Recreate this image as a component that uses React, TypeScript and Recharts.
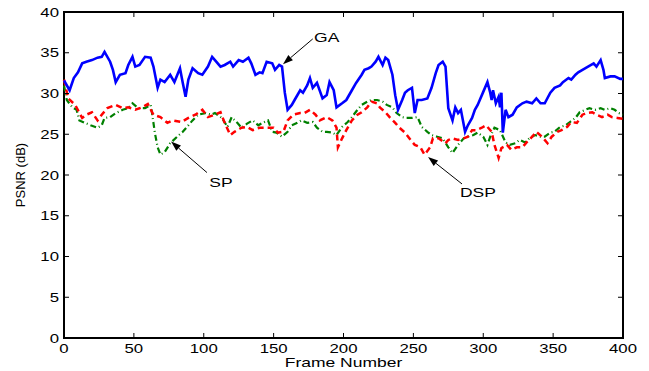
import React from 'react';
import { LineChart, Line, XAxis, YAxis, ReferenceArea, ReferenceLine, ReferenceDot } from 'recharts';

// frame axis / psnr axis ticks
const xTicks = [0, 50, 100, 150, 200, 250, 300, 350, 400];
const yTicks = [0, 5, 10, 15, 20, 25, 30, 35, 40];

// GA (solid blue)
const gaFrames = [0, 4, 7, 10, 13, 16, 20, 24, 27, 29, 33, 35, 37, 40, 44, 46, 49, 51, 54, 58, 62, 64, 67, 69, 72, 76, 79, 83, 85, 87, 89, 92, 96, 99, 103, 106, 108, 112, 115, 119, 121, 125, 128, 132, 134, 137, 140, 142, 145, 149, 151, 154, 156, 158, 160, 163, 165, 169, 171, 174, 176, 178, 181, 185, 188, 190, 193, 195, 199, 202, 206, 209, 213, 215, 218, 220, 223, 225, 228, 230, 232, 235, 237, 239, 242, 244, 246, 249, 251, 253, 256, 260, 263, 266, 268, 271, 273, 275, 278, 280, 282, 284, 287, 289, 292, 294, 296, 300, 303, 305, 306, 307, 309, 311, 312, 313, 314, 316, 318, 321, 324, 328, 331, 335, 338, 341, 344, 348, 351, 355, 357, 361, 363, 366, 368, 371, 375, 379, 381, 384, 386, 387, 391, 394, 398, 400];
const gaPsnr = [31.6, 30.4, 31.9, 32.6, 33.7, 33.9, 34.1, 34.4, 34.5, 35.1, 33.9, 32.9, 31.4, 32.3, 32.5, 33.5, 34.5, 33.3, 33.5, 34.5, 34.4, 33.3, 30.7, 31.7, 31.4, 32.3, 31.4, 33.1, 31.3, 29.6, 31.7, 33.1, 32.5, 32.3, 33.3, 34.5, 34.1, 33.3, 33.5, 33.9, 33.3, 34.1, 33.9, 34.4, 33.7, 32.3, 32.6, 32.5, 33.9, 33.7, 32.9, 33.5, 33.3, 30.1, 28.0, 28.6, 29.2, 30.4, 30.1, 31.0, 31.9, 30.7, 31.3, 29.4, 29.8, 31.4, 30.4, 28.3, 28.8, 29.2, 30.4, 31.3, 32.3, 32.9, 33.1, 33.3, 33.9, 34.5, 33.5, 34.4, 34.1, 32.3, 29.8, 28.0, 29.2, 30.1, 30.4, 30.7, 27.6, 29.2, 29.2, 29.4, 30.7, 32.5, 33.5, 33.9, 33.3, 28.2, 26.7, 28.3, 27.6, 28.0, 25.3, 26.1, 27.0, 28.0, 28.6, 30.2, 31.4, 30.1, 29.2, 30.4, 28.8, 29.6, 28.3, 30.1, 25.2, 28.0, 27.1, 27.4, 28.3, 28.8, 29.0, 28.8, 29.4, 28.8, 28.8, 30.1, 30.7, 31.0, 31.4, 31.9, 31.7, 32.3, 32.6, 32.9, 33.3, 33.7, 33.3, 34.1, 32.9, 31.9, 32.1, 32.1, 31.8, 31.8];

// SP (green dash-dot)
const spFrames = [0, 2, 6, 9, 11, 15, 19, 24, 27, 29, 33, 37, 42, 46, 49, 53, 58, 62, 63, 65, 67, 69, 72, 76, 81, 85, 89, 92, 96, 101, 105, 108, 113, 117, 120, 124, 127, 131, 135, 139, 142, 146, 149, 152, 156, 160, 163, 167, 170, 174, 178, 181, 185, 188, 192, 195, 199, 203, 206, 210, 213, 217, 220, 224, 228, 231, 235, 238, 242, 245, 249, 253, 256, 260, 263, 267, 271, 275, 278, 282, 286, 289, 293, 296, 300, 303, 305, 308, 312, 316, 319, 323, 326, 330, 333, 337, 341, 344, 348, 351, 355, 359, 362, 366, 369, 373, 376, 380, 384, 387, 391, 394, 397, 400];
const spPsnr = [31.0, 29.2, 28.3, 28.0, 26.7, 26.4, 26.1, 25.8, 26.1, 27.0, 27.1, 27.6, 28.0, 28.2, 28.8, 28.2, 28.2, 28.6, 27.6, 25.2, 23.4, 22.5, 22.8, 23.9, 24.7, 25.3, 26.1, 26.7, 27.4, 27.6, 27.4, 27.6, 27.0, 25.9, 27.1, 26.4, 25.8, 26.3, 26.7, 26.1, 26.4, 26.7, 25.3, 25.2, 24.7, 25.3, 26.1, 26.4, 26.7, 26.4, 26.5, 25.8, 25.3, 25.3, 25.2, 24.9, 25.9, 26.5, 27.1, 28.0, 28.6, 29.0, 29.2, 29.2, 29.0, 28.6, 28.3, 27.6, 27.1, 27.0, 27.0, 27.1, 25.9, 25.3, 24.9, 24.7, 24.5, 23.4, 22.7, 23.7, 24.5, 24.7, 24.9, 25.2, 24.7, 23.7, 24.7, 25.8, 25.5, 24.0, 23.7, 23.9, 24.3, 24.0, 24.5, 24.9, 24.7, 24.7, 25.2, 25.3, 25.9, 26.1, 26.5, 27.0, 27.7, 28.0, 28.2, 28.0, 28.2, 28.0, 28.2, 28.0, 27.6, 27.4];

// DSP (red dashed)
const dspFrames = [0, 3, 8, 13, 16, 20, 24, 27, 31, 37, 42, 46, 51, 56, 60, 64, 69, 74, 78, 84, 89, 94, 99, 103, 108, 112, 115, 119, 122, 127, 131, 135, 140, 145, 150, 153, 157, 160, 164, 169, 172, 176, 180, 183, 188, 192, 195, 196, 199, 202, 206, 210, 213, 217, 220, 224, 226, 230, 233, 237, 240, 244, 248, 251, 255, 258, 262, 264, 268, 273, 275, 278, 282, 286, 289, 292, 295, 299, 302, 306, 308, 311, 313, 317, 320, 324, 328, 331, 335, 338, 342, 346, 349, 353, 356, 360, 363, 367, 371, 374, 378, 381, 385, 389, 392, 396, 400];
const dspPsnr = [31.7, 29.4, 28.6, 27.0, 27.4, 27.7, 26.7, 27.4, 28.2, 28.6, 28.2, 28.3, 28.0, 28.3, 28.7, 27.4, 27.1, 26.4, 26.7, 26.5, 27.0, 27.4, 28.0, 27.1, 27.4, 27.7, 26.4, 24.9, 25.3, 25.8, 25.9, 25.5, 25.8, 25.8, 25.8, 25.2, 25.3, 26.7, 27.4, 27.6, 27.6, 28.0, 27.4, 26.7, 27.1, 26.7, 25.8, 23.4, 24.5, 25.5, 26.7, 27.4, 27.7, 28.3, 29.0, 28.8, 28.3, 27.7, 27.1, 26.4, 25.8, 25.2, 24.3, 23.7, 23.4, 22.5, 23.4, 24.5, 24.5, 23.9, 24.3, 24.5, 24.3, 24.5, 24.7, 25.5, 25.5, 25.8, 26.1, 25.3, 23.7, 22.1, 23.3, 23.7, 23.1, 23.4, 23.4, 24.0, 24.7, 25.3, 24.7, 23.9, 24.7, 25.3, 25.5, 25.9, 26.5, 26.4, 27.4, 27.6, 27.7, 27.4, 27.1, 27.4, 27.1, 27.0, 26.9];

// text labels with arrows, in frame / dB units
const notes = [
  { text: 'GA', at: [188, 36.9], tail: [178, 36.7], head: [156.7, 33.6] },
  { text: 'SP', at: [112.3, 19.1], tail: [102.3, 20.3], head: [76.6, 24.1] },
  { text: 'DSP', at: [296.2, 17.9], tail: [284.8, 18.9], head: [260.5, 22.2] },
];

const PLOT = { left: 64, right: 623, top: 12, bottom: 338 };
const FONT = '"Liberation Sans", Arial, Helvetica, sans-serif';
const STRETCH = 1.4; // the source figure is widened, so its text is too

const toPoints = (frames: number[], vals: number[]) => frames.map((f, i) => ({ frame: f, psnr: vals[i] }));

// horizontally stretched text
const SText = ({ x, y, anchor = 'middle', size = 12, children }: any) => (
  <text
    transform={`translate(${x} ${y}) scale(${STRETCH} 1)`}
    x={0}
    y={0}
    textAnchor={anchor}
    fontSize={size}
    fontFamily={FONT}
    fill="#000"
  >
    {children}
  </text>
);

const XTick = ({ x, payload }: any) => (
  <g>
    <line x1={x} x2={x} y1={PLOT.bottom} y2={PLOT.bottom - 5} stroke="#000" />
    <line x1={x} x2={x} y1={PLOT.top} y2={PLOT.top + 5} stroke="#000" />
    <SText x={x} y={PLOT.bottom + 15}>{payload.value}</SText>
  </g>
);

const YTick = ({ y, payload }: any) => (
  <g>
    <line x1={PLOT.left} x2={PLOT.left + 5} y1={y} y2={y} stroke="#000" />
    <line x1={PLOT.right} x2={PLOT.right - 5} y1={y} y2={y} stroke="#000" />
    <SText x={PLOT.left - 5} y={y + 4.5} anchor="end">{payload.value}</SText>
  </g>
);

const Arrow = ({ x1, y1, x2, y2 }: any) => {
  const a = Math.atan2(y2 - y1, x2 - x1);
  const len = 10;
  const half = 3.5;
  const bx = x2 - len * Math.cos(a);
  const by = y2 - len * Math.sin(a);
  const px = -Math.sin(a) * half;
  const py = Math.cos(a) * half;
  return (
    <g>
      <line x1={x1} y1={y1} x2={bx} y2={by} stroke="#000" strokeWidth={1} />
      <polygon points={`${x2},${y2} ${bx + px},${by + py} ${bx - px},${by - py}`} fill="#000" />
    </g>
  );
};

const App: React.FC = () => {
  return (
    <div style={{ position: 'absolute', left: 0, top: 0, background: '#fff' }}>
      <LineChart width={649} height={371} margin={{ top: 12, right: 26, bottom: 0, left: 0 }}>
        <XAxis
          dataKey="frame"
          type="number"
          domain={[0, 400]}
          ticks={xTicks}
          interval={0}
          height={33}
          axisLine={false}
          tickLine={false}
          tick={<XTick />}
          label={{
            content: ({ viewBox }: any) => (
              <SText x={viewBox.x + viewBox.width / 2} y={366.5} size={12.5}>
                Frame Number
              </SText>
            ),
          }}
        />
        <YAxis
          type="number"
          domain={[0, 40]}
          ticks={yTicks}
          interval={0}
          width={64}
          axisLine={false}
          tickLine={false}
          tick={<YTick />}
          label={{
            content: () => (
              <text x={20} y={175} transform="rotate(-90 20 175)" textAnchor="middle" dominantBaseline="central" fontSize={13} fontFamily={FONT} fill="#000">
                PSNR (dB)
              </text>
            ),
          }}
        />
        <Line data={toPoints(spFrames, spPsnr)} dataKey="psnr" stroke="#008000" strokeWidth={2.2} strokeDasharray="6 3 1 3" dot={false} isAnimationActive={false} />
        <Line data={toPoints(dspFrames, dspPsnr)} dataKey="psnr" stroke="#ff0000" strokeWidth={2.5} strokeDasharray="6 4" dot={false} isAnimationActive={false} />
        <Line data={toPoints(gaFrames, gaPsnr)} dataKey="psnr" stroke="#0000ff" strokeWidth={2.6} dot={false} isAnimationActive={false} />
        <ReferenceArea x1={0} x2={400} y1={0} y2={40} fill="none" stroke="#000" strokeWidth={2} fillOpacity={0} />
        {notes.map((n) => (
          <ReferenceLine
            key={n.text + '-arrow'}
            segment={[{ x: n.tail[0], y: n.tail[1] }, { x: n.head[0], y: n.head[1] }]}
            shape={<Arrow />}
          />
        ))}
        {notes.map((n) => (
          <ReferenceDot
            key={n.text}
            x={n.at[0]}
            y={n.at[1]}
            r={1}
            shape={({ cx, cy }: any) => (
              <SText x={cx} y={cy + 4.5} size={12.5}>
                {n.text}
              </SText>
            )}
          />
        ))}
      </LineChart>
    </div>
  );
};

export default App;
